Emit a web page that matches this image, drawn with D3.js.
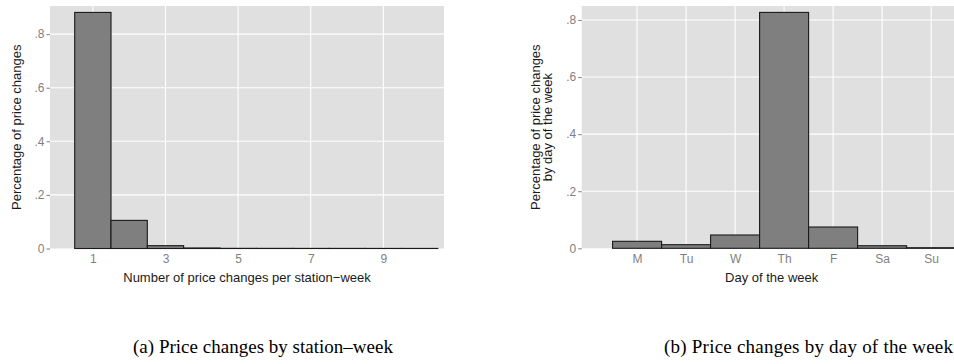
<!DOCTYPE html>
<html>
<head>
<meta charset="utf-8">
<script src="https://cdn.jsdelivr.net/npm/d3@7"></script>
<style>
  body { margin: 0; background: #fff; }
  svg { display: block; }
</style>
</head>
<body>
<div id="chart"></div>
<script>
// data
var changeCounts = [1, 2, 3, 4, 5, 6, 7, 8, 9, 10]
var changeShares = [0.881, 0.105, 0.0105, 0.002, 0.0006, 0.0005, 0.0004, 0.0004, 0.0003, 0.0003]
var countTicks = [1, 3, 5, 7, 9]

var dayLabels = ["M", "Tu", "W", "Th", "F", "Sa", "Su"]
var dayShares = [0.0245, 0.0126, 0.0466, 0.8266, 0.0746, 0.009, 0.002]

var yTicks = [0, 0.2, 0.4, 0.6, 0.8]

var width = 954, height = 364

var svg = d3.select("#chart")
  .append("svg")
  .attr("width", width)
  .attr("height", height)

var fmt = function(d) { return d === 0 ? "0" : d3.format(".1f")(d).replace(/^0/, "") }

function drawPanel(opts) {
  var g = svg.append("g")

  var x = d3.scaleLinear().domain(opts.xDomain).range(opts.xRange)
  var y = d3.scaleLinear().domain(opts.yDomain).range([opts.bottom, opts.top])

  g.append("rect")
    .attr("x", opts.xRange[0])
    .attr("y", opts.top)
    .attr("width", opts.xRange[1] - opts.xRange[0])
    .attr("height", opts.bottom - opts.top)
    .attr("fill", "#e0e0e0")

  // grid
  g.selectAll(".hgrid")
    .data(yTicks.slice(1))
    .enter().append("line")
    .attr("x1", opts.xRange[0]).attr("x2", opts.xRange[1])
    .attr("y1", (d) => y(d)).attr("y2", (d) => y(d))
    .attr("stroke", "#fff").attr("stroke-width", 1.1)

  g.selectAll(".vgrid")
    .data(opts.xTickVals)
    .enter().append("line")
    .attr("x1", (d) => x(d)).attr("x2", (d) => x(d))
    .attr("y1", opts.top).attr("y2", opts.bottom)
    .attr("stroke", "#fff").attr("stroke-width", 1.1)

  // bars
  g.selectAll(".bar")
    .data(opts.values)
    .enter().append("rect")
    .attr("x", (d, i) => x(i + 1 - 0.5))
    .attr("y", (d) => y(d))
    .attr("width", (d, i) => x(i + 1.5) - x(i + 0.5))
    .attr("height", (d) => y(0) - y(d))
    .attr("fill", "#7f7f7f")
    .attr("stroke", "#1a1a1a")
    .attr("stroke-width", 1.1)

  // y axis
  var yAxis = g.append("g")
    .attr("transform", "translate(" + opts.xRange[0] + ",0)")
    .call(d3.axisLeft(y).tickValues(yTicks).tickFormat(fmt).tickSize(3.5).tickPadding(2))
  yAxis.select(".domain").remove()
  yAxis.selectAll("line").attr("stroke", "#7f7f7f")
  yAxis.selectAll("text")
    .attr("fill", "#7f7f7f")
    .style("font-family", "Liberation Sans, Arial, sans-serif")
    .style("font-size", "12px")

  // x axis
  var xAxis = g.append("g")
    .attr("transform", "translate(0," + opts.bottom + ")")
    .call(d3.axisBottom(x).tickValues(opts.xTickVals).tickFormat(opts.xFormat).tickSize(0).tickPadding(6))
  xAxis.select(".domain").remove()
  xAxis.selectAll("text")
    .attr("fill", "#7f7f7f")
    .style("font-family", "Liberation Sans, Arial, sans-serif")
    .style("font-size", "12px")

  // titles
  g.append("text")
    .attr("x", opts.xTitleX)
    .attr("y", 282)
    .attr("text-anchor", "middle")
    .style("font-family", "Liberation Sans, Arial, sans-serif")
    .style("font-size", "13px")
    .attr("fill", "#1a1a1a")
    .text(opts.xTitle)

  var yt = g.append("text")
    .attr("transform", "translate(" + opts.yTitleX + "," + ((opts.top + opts.bottom) / 2) + ") rotate(-90)")
    .attr("text-anchor", "middle")
    .style("font-family", "Liberation Sans, Arial, sans-serif")
    .style("font-size", "13px")
    .attr("fill", "#1a1a1a")
  opts.yTitle.forEach(function(line, i) {
    yt.append("tspan").attr("x", 0).attr("dy", i === 0 ? 0 : "12.5px").text(line)
  })

  // caption
  svg.append("text")
    .attr("x", opts.captionX)
    .attr("y", 353)
    .style("font-family", "Liberation Serif, DejaVu Serif, serif")
    .style("font-size", "19px")
    .attr("fill", "#000")
    .attr("textLength", opts.captionW)
    .attr("lengthAdjust", "spacing")
    .text(opts.caption)
}

drawPanel({
  values: changeShares,
  xDomain: [-0.18, 10.67],
  xRange: [50, 444],
  yDomain: [0, 0.905],
  top: 6, bottom: 248.5,
  xTickVals: countTicks,
  xFormat: d3.format("d"),
  xTitle: "Number of price changes per station\u2212week",
  xTitleX: 247,
  yTitle: ["Percentage of price changes"],
  yTitleX: 21,
  caption: "(a) Price changes by station\u2013week",
  captionX: 133,
  captionW: 260
})

drawPanel({
  values: dayShares,
  xDomain: [-0.13, 8.13],
  xRange: [581.7, 986.5],
  yDomain: [0, 0.849],
  top: 6, bottom: 248.3,
  xTickVals: d3.range(1, dayLabels.length + 1),
  xFormat: (d) => dayLabels[d - 1],
  xTitle: "Day of the week",
  xTitleX: 771.7,
  yTitle: ["Percentage of price changes", "by day of the week"],
  yTitleX: 539.5,
  caption: "(b) Price changes by day of the week",
  captionX: 664,
  captionW: 289
})
</script>
</body>
</html>
